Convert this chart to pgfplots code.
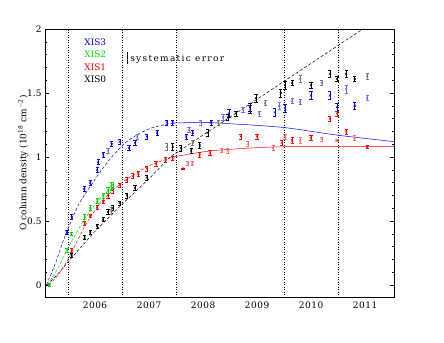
\documentclass[border=0pt]{standalone}
\usepackage{pgfplots}
\pgfplotsset{compat=1.18}
\usepackage{pgfplotstable}
\usepackage{fontspec}
\setmainfont{DejaVu Serif}
\definecolor{xgreen}{RGB}{0,220,0}
\definecolor{lblue}{RGB}{110,110,255}
\definecolor{lred}{RGB}{255,110,110}
\definecolor{lgray}{RGB}{120,120,120}

\pgfplotstableread{
x y e
2005.65 0.00 0.01
2006.07 0.23 0.015
2006.31 0.37 0.015
2006.41 0.41 0.015
2006.54 0.46 0.015
2006.65 0.51 0.015
2006.74 0.57 0.02
2006.83 0.60 0.02
2006.96 0.64 0.015
2007.09 0.70 0.02
2007.24 0.76 0.02
2007.46 0.84 0.02
2007.94 1.08 0.025
2008.09 1.07 0.025
2008.28 1.05 0.02
2008.44 1.09 0.025
2008.59 1.19 0.03
2008.96 1.31 0.02
2009.11 1.34 0.02
2009.37 1.39 0.03
2009.48 1.46 0.03
2009.94 1.50 0.03
2010.02 1.56 0.03
2010.15 1.58 0.02
2010.50 1.56 0.02
2010.85 1.65 0.03
2010.98 1.61 0.02
2011.15 1.65 0.03
2011.31 1.61 0.02
}\blackdata
\pgfplotstableread{
x y e
2006.80 0.58 0.03
2007.83 1.08 0.025
2008.31 1.11 0.02
2008.78 1.27 0.02
2009.65 1.42 0.02
2010.30 1.61 0.025
2010.70 1.58 0.02
2011.54 1.63 0.02
}\graydata
\pgfplotstableread{
x y e
2005.65 0.00 0.01
2005.98 0.41 0.015
2006.07 0.53 0.02
2006.30 0.75 0.02
2006.41 0.80 0.02
2006.54 0.90 0.02
2006.56 0.96 0.02
2006.65 1.02 0.02
2006.81 1.10 0.02
2006.96 1.12 0.02
2007.13 1.07 0.02
2007.24 1.11 0.02
2007.46 1.16 0.02
2007.65 1.19 0.02
2007.83 1.27 0.02
2007.94 1.27 0.02
2008.19 1.16 0.02
2008.31 1.19 0.02
2008.65 1.27 0.02
2008.98 1.34 0.03
2009.37 1.37 0.03
2009.83 1.35 0.03
2010.02 1.38 0.03
2010.50 1.48 0.03
2010.85 1.48 0.03
2010.98 1.39 0.03
2011.31 1.40 0.03
}\bluedata
\pgfplotstableread{
x y e
2006.74 1.05 0.02
2007.28 1.16 0.02
2008.24 1.21 0.02
2008.46 1.27 0.02
2008.87 1.31 0.02
2009.24 1.37 0.02
2009.54 1.34 0.02
2009.91 1.40 0.03
2010.15 1.44 0.02
2010.30 1.43 0.02
2011.15 1.53 0.03
2011.54 1.46 0.02
}\lbluedata
\pgfplotstableread{
x y e
2005.65 0.00 0.01
2006.07 0.27 0.015
2006.31 0.48 0.015
2006.41 0.54 0.015
2006.54 0.61 0.015
2006.65 0.65 0.015
2006.74 0.70 0.02
2006.83 0.74 0.02
2006.96 0.78 0.015
2007.09 0.82 0.02
2007.20 0.85 0.02
2007.30 0.87 0.02
2007.46 0.91 0.02
2007.63 0.95 0.02
2007.81 0.98 0.02
2007.94 0.99 0.015
2008.13 0.91 0.005
2008.44 1.02 0.02
2008.63 1.03 0.02
2009.20 1.16 0.02
2009.50 1.16 0.02
2009.96 1.11 0.02
2010.15 1.13 0.02
2010.50 1.15 0.02
2010.85 1.30 0.02
2010.98 1.34 0.02
2011.15 1.20 0.02
2011.54 1.08 0.015
}\reddata
\pgfplotstableread{
x y e
2008.22 0.95 0.015
2008.30 0.95 0.015
2008.85 1.05 0.015
2008.96 1.05 0.02
2009.33 1.10 0.02
2009.80 1.07 0.02
2010.02 1.16 0.02
2010.30 1.13 0.02
2010.70 1.14 0.015
2010.98 1.13 0.01
2011.31 1.15 0.02
}\lreddata
\pgfplotstableread{
x y e
2005.65 0.00 0.01
2005.98 0.27 0.015
2006.06 0.40 0.015
2006.31 0.53 0.02
2006.41 0.60 0.02
2006.54 0.66 0.02
2006.65 0.70 0.02
2006.74 0.74 0.025
2006.80 0.77 0.03
2006.83 0.78 0.025
}\greendata

\begin{document}
\begin{tikzpicture}[font=\fontsize{9}{11}\selectfont]
\useasboundingbox (0,0) rectangle (444bp,343bp);
\begin{axis}[
  at={(45bp,46bp)}, anchor=south west,
  scale only axis, width=349bp, height=268bp,
  xmin=2005.574, xmax=2012.037, ymin=-0.094, ymax=2,
  axis line style={black, line width=0.6pt},
  tick align=inside, tick style={black, line width=0.5pt},
  xtick={2006.5,2007.5,2008.5,2009.5,2010.5,2011.5},
  xticklabels={2006,2007,2008,2009,2010,2011},
  x tick style={draw=none},
  extra x ticks={2006,2007,2008,2009,2010,2011},
  extra x tick labels={},
  extra x tick style={major tick length=4bp, tick style={black, line width=0.5pt}},
  minor xtick={2005.6,2005.7,...,2012.0},
  ytick={0,0.5,1,1.5,2},
  yticklabels={0,0.5,1,1.5,2},
  minor ytick={-0.1,0,...,2},
  major tick length=4bp, minor tick length=2bp,
  xticklabel style={yshift=-1bp, font=\fontsize{9}{11}\selectfont\addfontfeature{LetterSpace=6}},
  /pgf/number format/assume math mode=true,
  ylabel={O column density (10\textsuperscript{18} cm\textsuperscript{$-$2})},
  ylabel style={at={(axis description cs:0,0.5)}, anchor=south, yshift=13bp},
  clip=true,
  every axis plot/.append style={line width=0.5pt},
  err/.style={only marks, mark=x, mark size=1.4pt,
     error bars/.cd, y dir=both, y explicit,
     error bar style={line width=0.6pt},
     error mark options={rotate=90, mark size=1.6pt, line width=0.6pt}},
]
% dotted year lines
\draw[dotted, black, line width=0.5pt] (axis cs:2006,-0.094) -- (axis cs:2006,2);
\draw[dotted, black, line width=0.5pt] (axis cs:2007,-0.094) -- (axis cs:2007,2);
\draw[dotted, black, line width=0.5pt] (axis cs:2008,-0.094) -- (axis cs:2008,2);
\draw[dotted, black, line width=0.5pt] (axis cs:2010,-0.094) -- (axis cs:2010,2);
\draw[dotted, black, line width=0.5pt] (axis cs:2011,-0.094) -- (axis cs:2011,2);

% models
\addplot[black, densely dashed, no marks] coordinates {(2005.61,0) (2005.8,0.08) (2006.0,0.18) (2006.5,0.42) (2007.0,0.63) (2007.5,0.83) (2007.89,1.0) (2011.46,2.0)};
\addplot[blue, densely dashed, no marks, smooth] coordinates {(2005.6,0) (2005.75,0.15) (2005.9,0.33) (2006.0,0.44) (2006.2,0.63) (2006.46,0.80) (2006.75,0.97) (2007.09,1.12) (2007.5,1.22) (2007.95,1.265)};
\addplot[blue, no marks, smooth] coordinates {(2007.95,1.265) (2008.5,1.27) (2009.0,1.26) (2010.0,1.23) (2011,1.17) (2012.04,1.12)};
\addplot[red, densely dashed, no marks, smooth] coordinates {(2005.65,0) (2005.8,0.07) (2006.0,0.20) (2006.3,0.45) (2006.6,0.64) (2007.0,0.80) (2007.5,0.93) (2007.95,1.0)};
\addplot[red, no marks, smooth] coordinates {(2007.95,1.0) (2008.5,1.04) (2009,1.06) (2010,1.08) (2012.04,1.08)};
\addplot[xgreen, densely dashed, no marks, smooth] coordinates {(2005.62,0) (2005.8,0.12) (2006,0.29) (2006.3,0.51) (2006.6,0.68) (2006.85,0.77)};

% data
\addplot[lgray, err] table[x=x, y=y, y error=e] {\graydata};
\addplot[black, err] table[x=x, y=y, y error=e] {\blackdata};
\addplot[lblue, err] table[x=x, y=y, y error=e] {\lbluedata};
\addplot[blue, err] table[x=x, y=y, y error=e] {\bluedata};
\addplot[lred, err] table[x=x, y=y, y error=e] {\lreddata};
\addplot[red, err] table[x=x, y=y, y error=e] {\reddata};
\addplot[xgreen, err] table[x=x, y=y, y error=e] {\greendata};

% legend
\node[anchor=west, text=blue, inner sep=0pt] at (axis cs:2006.30,1.895) {XIS3};
\node[anchor=west, text=xgreen, inner sep=0pt] at (axis cs:2006.30,1.80) {XIS2};
\node[anchor=west, text=red, inner sep=0pt] at (axis cs:2006.30,1.705) {XIS1};
\node[anchor=west, text=black, inner sep=0pt] at (axis cs:2006.30,1.61) {XIS0};
\draw[black, line width=0.6pt] (axis cs:2007.09,1.73) -- (axis cs:2007.09,1.815) -- (axis cs:2007.11,1.815);
\node[anchor=west, inner sep=0pt] at (axis cs:2007.15,1.765) {\addfontfeature{LetterSpace=15}systematic error};
\end{axis}
\end{tikzpicture}
\end{document}
